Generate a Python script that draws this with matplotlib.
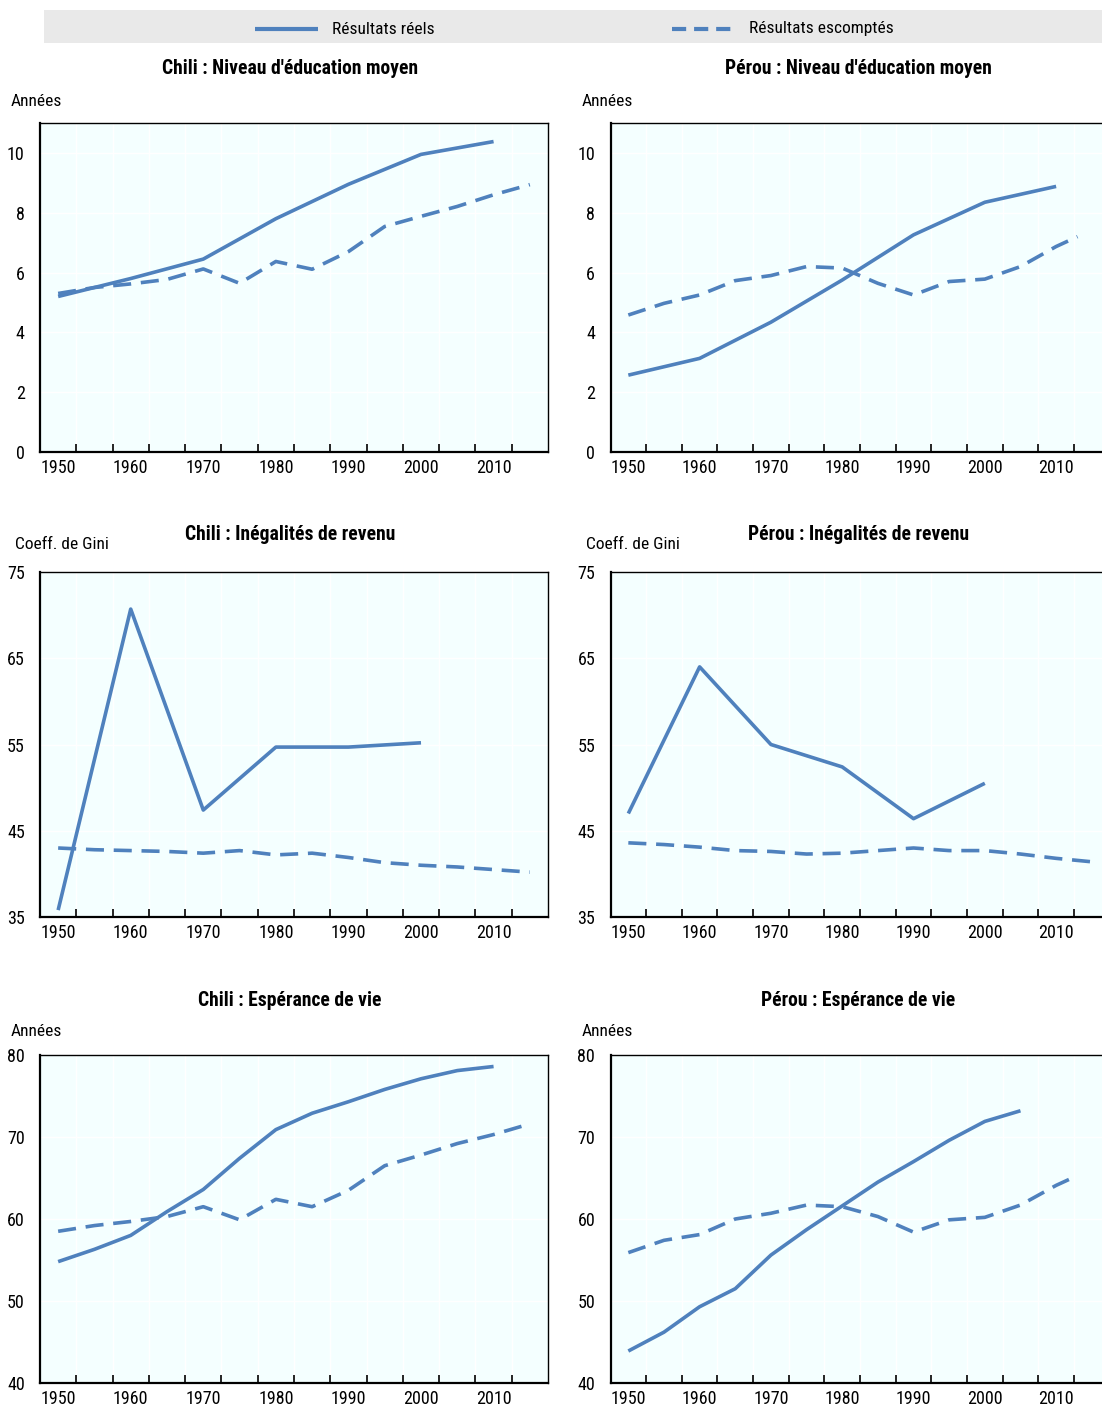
import matplotlib
matplotlib.use("Agg")
import matplotlib.pyplot as plt
from matplotlib.lines import Line2D
from matplotlib.patches import Rectangle
from matplotlib import font_manager

# ---------------- data ----------------
years_10 = [1950, 1960, 1970, 1980, 1990, 2000, 2010]
years_5 = [1950, 1955, 1960, 1965, 1970, 1975, 1980, 1985, 1990, 1995, 2000, 2005, 2010, 2015]
years_5_to2010 = [1950, 1955, 1960, 1965, 1970, 1975, 1980, 1985, 1990, 1995, 2000, 2005, 2010]
years_5_to2005 = [1950, 1955, 1960, 1965, 1970, 1975, 1980, 1985, 1990, 1995, 2000, 2005]
years_5_peru_end = [1950, 1955, 1960, 1965, 1970, 1975, 1980, 1985, 1990, 1995, 2000, 2005, 2010, 2013]
years_gini = [1950, 1960, 1970, 1980, 1990, 2000]

chile_edu_real = [5.2, 5.8, 6.45, 7.8, 8.95, 9.95, 10.38]
chile_edu_exp = [5.3, 5.5, 5.62, 5.77, 6.12, 5.64, 6.37, 6.11, 6.7, 7.54, 7.88, 8.21, 8.6, 8.94]
peru_edu_real = [2.57, 3.13, 4.34, 5.75, 7.26, 8.35, 8.88]
peru_edu_exp = [4.58, 4.97, 5.25, 5.73, 5.9, 6.2, 6.15, 5.64, 5.25, 5.7, 5.78, 6.2, 6.87, 7.2]

chile_gini_real = [35.8, 70.7, 47.4, 54.7, 54.7, 55.2]
chile_gini_exp = [43.0, 42.8, 42.7, 42.6, 42.4, 42.7, 42.2, 42.4, 41.9, 41.3, 41.0, 40.8, 40.5, 40.2]
peru_gini_real = [47.0, 64.0, 55.0, 52.4, 46.4, 50.5]
peru_gini_exp = [43.6, 43.4, 43.1, 42.7, 42.6, 42.3, 42.4, 42.7, 43.0, 42.7, 42.7, 42.3, 41.8, 41.4]

chile_life_real = [54.8, 56.3, 58.0, 60.9, 63.6, 67.4, 70.9, 72.9, 74.3, 75.8, 77.1, 78.1, 78.6]
chile_life_exp = [58.5, 59.2, 59.7, 60.3, 61.5, 59.9, 62.4, 61.5, 63.5, 66.5, 67.8, 69.2, 70.3, 71.6]
peru_life_real = [43.9, 46.2, 49.3, 51.5, 55.6, 58.7, 61.6, 64.5, 67.0, 69.6, 71.9, 73.2]
peru_life_exp = [55.9, 57.4, 58.1, 60.0, 60.7, 61.7, 61.5, 60.3, 58.4, 59.9, 60.2, 61.7, 64.1, 65.3]

x_tick_labels = ['1950', '1960', '1970', '1980', '1990', '2000', '2010']

titles = ["Chili : Niveau d'éducation moyen", "Pérou : Niveau d'éducation moyen",
          "Chili : Inégalités de revenu", "Pérou : Inégalités de revenu",
          "Chili : Espérance de vie", "Pérou : Espérance de vie"]
unit_labels = ["Années", "Années", "Coeff. de Gini", "Coeff. de Gini", "Années", "Années"]
legend_labels = ["Résultats réels", "Résultats escomptés"]

# ---------------- fonts ----------------
available = {f.name for f in font_manager.fontManager.ttflist}
narrow = None
for cand in ['Liberation Sans Narrow', 'Arial Narrow', 'Roboto Condensed', 'Open Sans Condensed']:
    if cand in available:
        narrow = cand
        break
if narrow:
    plt.rcParams['font.family'] = [narrow, 'DejaVu Sans']
    SC = 1.0
else:
    plt.rcParams['font.family'] = ['Liberation Sans', 'DejaVu Sans']
    SC = 0.84

# ---------------- style ----------------
W, H = 1102, 1407
BLUE = '#4F81BD'
BG = '#F4FFFF'
FS = 13 * SC
FS_T = 14.1 * SC
FS_U = 12.5 * SC

fig = plt.figure(figsize=(W / 100, H / 100), dpi=100)
fig.patch.set_facecolor('white')


def fx(px):
    return px / W


def fy(py):
    return 1 - py / H


# legend bar
fig.patches.append(Rectangle((fx(44), fy(43)), fx(W) - fx(44), fy(10) - fy(43),
                             transform=fig.transFigure, facecolor='#E9E9E9',
                             edgecolor='none', zorder=0))
fig.lines.append(Line2D([fx(255), fx(318)], [fy(29), fy(29)], transform=fig.transFigure,
                        color=BLUE, lw=3.0, solid_capstyle='butt'))
fig.lines.append(Line2D([fx(672), fx(735)], [fy(29), fy(29)], transform=fig.transFigure,
                        color=BLUE, lw=3.0, dashes=(3.4, 1.9), dash_capstyle='butt'))
fig.text(fx(332), fy(29), legend_labels[0], ha='left', va='center', fontsize=FS_U)
fig.text(fx(749), fy(29), legend_labels[1], ha='left', va='center', fontsize=FS_U)

cols = [(40, 548), (610.5, 1109.6)]
rows = [(123, 452), (572, 917), (1055, 1383)]
title_y = [68, 535, 1000]
unit_y = [101, 544, 1032]
title_x = [290, 858.5]
unit_x = [[11, 582], [15, 586], [11, 582]]

ylims = [(0, 11), (35, 75), (40, 80)]
yticks = [[0, 2, 4, 6, 8, 10], [35, 45, 55, 65, 75], [40, 50, 60, 70, 80]]

series = [
    [(years_10, chile_edu_real, years_5, chile_edu_exp),
     (years_10, peru_edu_real, years_5_peru_end, peru_edu_exp)],
    [(years_gini, chile_gini_real, years_5, chile_gini_exp),
     (years_gini, peru_gini_real, years_5, peru_gini_exp)],
    [(years_5_to2010, chile_life_real, years_5, chile_life_exp),
     (years_5_to2005, peru_life_real, years_5_peru_end, peru_life_exp)],
]

for r, (top, bot) in enumerate(rows):
    for c, (left, right) in enumerate(cols):
        ax = fig.add_axes([fx(left), fy(bot), fx(right) - fx(left), fy(top) - fy(bot)])
        ax.set_facecolor(BG)
        xr, yr, xe, ye = series[r][c]
        ax.plot(xe, ye, color=BLUE, lw=2.6, dashes=(5.0, 2.7), dash_capstyle='butt', zorder=3)
        ax.plot(xr, yr, color=BLUE, lw=2.6, solid_capstyle='butt', zorder=4)
        ax.set_xlim(1947.5, 2017.5)
        ax.set_ylim(*ylims[r])
        ax.set_xticks([int(t) for t in x_tick_labels])
        ax.set_xticklabels(x_tick_labels)
        ax.set_xticks([1952.5 + 5 * i for i in range(13)], minor=True)
        ax.set_yticks(yticks[r])
        ax.tick_params(axis='x', which='major', length=0, pad=5, labelsize=FS)
        ax.tick_params(axis='x', which='minor', direction='in', length=6, width=1.2, color='black')
        ax.tick_params(axis='y', which='both', length=0, pad=11, labelsize=FS)
        ax.grid(True, axis='x', which='minor', color='white', lw=1.0)
        ax.grid(True, axis='y', which='major', color='white', lw=1.0)
        ax.set_axisbelow(True)
        for s in ['left', 'bottom']:
            ax.spines[s].set_linewidth(1.6)
        for s in ['top', 'right']:
            ax.spines[s].set_linewidth(1.0)
        idx = r * 2 + c
        fig.text(fx(title_x[c]), fy(title_y[r]), titles[idx], ha='center', va='center',
                 fontsize=FS_T, fontweight='bold')
        fig.text(fx(unit_x[r][c]), fy(unit_y[r]), unit_labels[idx], ha='left', va='center',
                 fontsize=FS_U)

fig.savefig('out.png', dpi=100)
